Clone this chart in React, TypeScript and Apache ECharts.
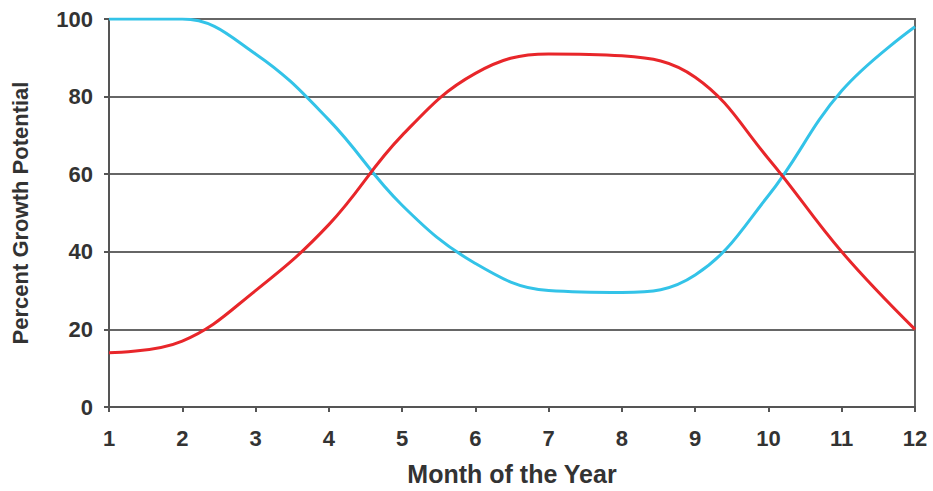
import React, { useEffect, useRef } from "react";
import * as echarts from "echarts";

const months = [1, 2, 3, 4, 5, 6, 7, 8, 9, 10, 11, 12];
const cyanValues = [100, 100, 91, 74, 52, 37, 30, 29.5, 34, 54.5, 81.5, 98];
const redValues = [14, 17, 30, 47, 70, 86, 91, 90.5, 85, 64, 40, 20];
const yTicks = [0, 20, 40, 60, 80, 100];

export default function App() {
  const ref = useRef<HTMLDivElement>(null);
  useEffect(() => {
    if (!ref.current) return;
    const chart = echarts.init(ref.current, null, { renderer: "svg" });
    const font = "Arial, 'Liberation Sans', sans-serif";
    chart.setOption({
      animation: false,
      backgroundColor: "#fff",
      grid: {
        left: 109,
        right: 18,
        top: 19,
        bottom: 80,
        show: true,
        borderColor: "#666",
        borderWidth: 2,
      },
      xAxis: {
        type: "value",
        min: 1,
        max: 12,
        interval: 1,
        name: "Month of the Year",
        nameLocation: "middle",
        nameGap: 54,
        nameTextStyle: { fontFamily: font, fontWeight: "bold", fontSize: 25, color: "#333" },
        axisLine: { lineStyle: { color: "#555", width: 2 } },
        axisTick: { show: true, length: 5, lineStyle: { color: "#555", width: 2 } },
        axisLabel: { fontFamily: font, fontWeight: "bold", fontSize: 22, color: "#333", margin: 20 },
        splitLine: { show: false },
      },
      yAxis: {
        type: "value",
        min: 0,
        max: 100,
        interval: 20,
        name: "Percent Growth Potential",
        nameLocation: "middle",
        nameGap: 78,
        nameTextStyle: { fontFamily: font, fontWeight: "bold", fontSize: 22, color: "#333" },
        axisLine: { show: true, lineStyle: { color: "#555", width: 2 } },
        axisTick: { show: true, length: 5, lineStyle: { color: "#555", width: 2 } },
        axisLabel: {
          fontFamily: font,
          fontWeight: "bold",
          fontSize: 22,
          color: "#333",
          margin: 16,
          formatter: (v: number) => (yTicks.includes(v) ? String(v) : ""),
        },
        splitLine: { show: true, lineStyle: { color: "#666", width: 2 } },
      },
      series: [
        {
          type: "line",
          data: months.map((m, i) => [m, cyanValues[i]]),
          smooth: 0.4,
          showSymbol: false,
          lineStyle: { color: "#33C3E8", width: 3 },
          z: 3,
        },
        {
          type: "line",
          data: months.map((m, i) => [m, redValues[i]]),
          smooth: 0.4,
          showSymbol: false,
          lineStyle: { color: "#E8262A", width: 3 },
          z: 3,
        },
      ],
    });
    return () => chart.dispose();
  }, []);
  return (
    <div
      ref={ref}
      style={{ position: "fixed", left: 0, top: 0, width: 933, height: 491 }}
    />
  );
}
